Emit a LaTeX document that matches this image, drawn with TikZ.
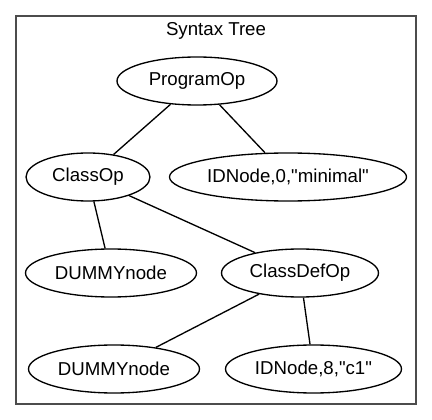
\documentclass[tikz,border=0pt]{standalone}
\usepackage{fontspec}
\setmainfont{Liberation Sans}[Ligatures=TeXOff]
\usetikzlibrary{shapes.geometric}

\begin{document}
\begin{tikzpicture}[
	x=1pt, y=-1pt,
	main/.style={ellipse, draw=black, line width=1.33pt, inner sep=0pt, minimum height=48pt, font=\fontsize{18.67pt}{22pt}\selectfont},
	cluster/.style={rectangle, draw=black!70, line width=1.6pt, minimum width=400pt, minimum height=388pt},
	title/.style={font=\fontsize{18.67pt}{22pt}\selectfont},
	edge/.style={line width=1.33pt}
	]
	\useasboundingbox (0,0) rectangle (432,420);
	
	\node (box) [cluster] at (216,210) {};
	\node (treetitle) [title] at (216,31) {Syntax Tree};
	
	\node (programop) [main, minimum width=160pt] at (197,81) {ProgramOp};
	
		\node (classop) [main, minimum width=124pt] at (88,177) {ClassOp};
		\node (idnodemin) [main, minimum width=237pt] at (288,177) {IDNode,0,"minimal"};
		
			\node (dummyleft) [main, minimum width=171pt] at (111,273) {DUMMYnode};
			\node (classdefop) [main, minimum width=157pt] at (300,273) {ClassDefOp};
			
				\node (dummybottom) [main, minimum width=171pt] at (114,369) {DUMMYnode};
				\node (idnodecone) [main, minimum width=176pt] at (313.5,369) {IDNode,8,"c1"};

	\draw [edge] (programop)--(classop);
	\draw [edge] (programop)--(idnodemin);
	
	\draw [edge] (classop)--(dummyleft);
	\draw [edge] (classop)--(classdefop);
	
	\draw [edge] (classdefop)--(dummybottom);
	\draw [edge] (classdefop)--(idnodecone);
	
\end{tikzpicture}
\end{document}
